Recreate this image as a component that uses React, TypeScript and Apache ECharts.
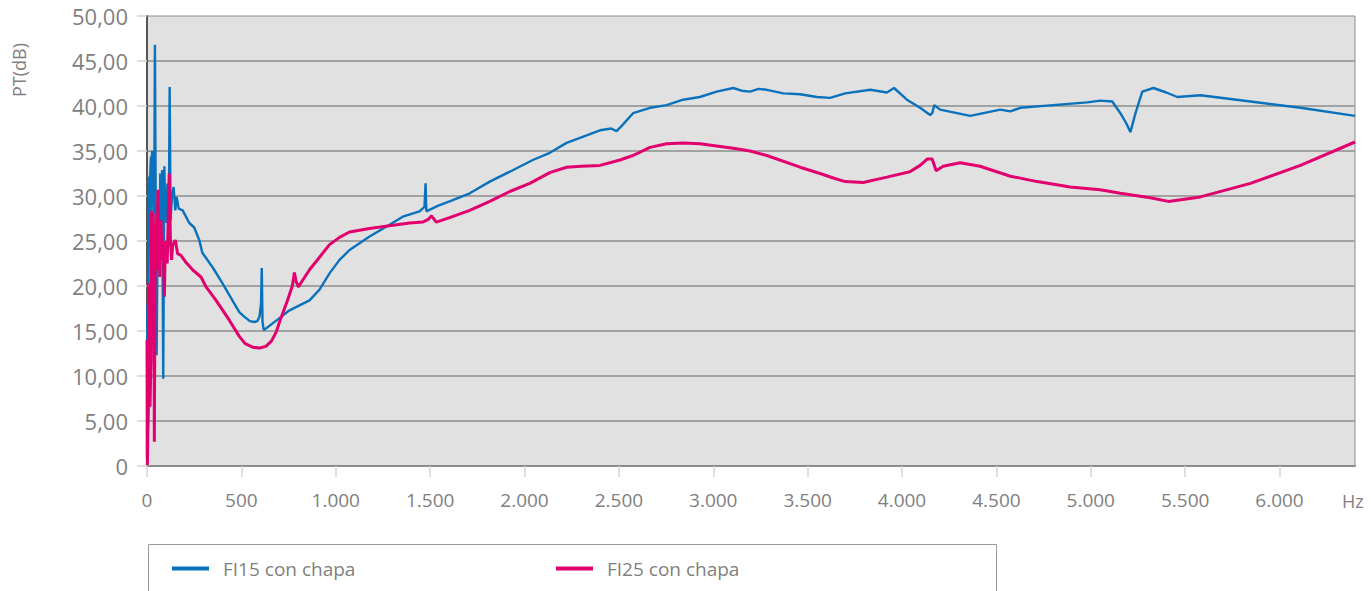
import React, { useEffect, useRef } from "react";
import * as echarts from "echarts";

// FI15 con chapa
const fi15Hz = [0, 2, 4, 8, 12, 17, 21, 24, 27, 30, 34, 38, 42, 46, 51, 56, 62, 66, 70, 76, 80, 86, 92, 97, 101, 104, 108, 113, 117, 120, 125, 132, 141, 150, 157, 168, 189, 224, 250, 277, 293, 350, 400, 489, 515, 545, 569, 585, 596, 604, 608, 612, 619, 700, 755, 861, 914, 967, 1020, 1073, 1179, 1285, 1355, 1444, 1470, 1476, 1480, 1540, 1603, 1710, 1816, 1922, 2044, 2134, 2223, 2400, 2460, 2488, 2520, 2575, 2665, 2753, 2840, 2929, 3018, 3106, 3150, 3195, 3240, 3284, 3372, 3460, 3549, 3619, 3699, 3832, 3920, 3958, 4026, 4096, 4149, 4160, 4171, 4202, 4361, 4521, 4574, 4627, 4801, 4981, 5050, 5114, 5157, 5190, 5210, 5237, 5273, 5332, 5400, 5459, 5581, 5846, 6111, 6400];
const fi15Db = [0.8, 18, 3, 20, 32, 32.3, 34.4, 28, 35, 30, 34.4, 28, 46.8, 30, 12.3, 24.7, 30, 22, 32.5, 26.6, 32.9, 9.7, 33.3, 27.5, 30.5, 27, 31.4, 29.2, 32, 42.1, 27.3, 29.9, 31, 28.4, 29.9, 28.6, 28.4, 27, 26.5, 25.1, 23.7, 22, 20.3, 17.1, 16.6, 16.1, 16.0, 16.1, 16.6, 18, 22.0, 16, 15.1, 16.4, 17.3, 18.4, 19.6, 21.4, 22.9, 24, 25.5, 26.8, 27.7, 28.3, 28.8, 31.4, 28.3, 28.9, 29.4, 30.3, 31.6, 32.7, 34, 34.8, 35.9, 37.3, 37.5, 37.2, 37.9, 39.2, 39.8, 40.1, 40.7, 41, 41.6, 42, 41.7, 41.6, 41.9, 41.8, 41.4, 41.3, 41, 40.9, 41.4, 41.8, 41.5, 42, 40.7, 39.8, 39, 39.2, 40.1, 39.6, 38.9, 39.6, 39.4, 39.8, 40.1, 40.4, 40.6, 40.5, 39.2, 38, 37.1, 39.2, 41.6, 42, 41.5, 41, 41.2, 40.5, 39.8, 38.9];

// FI25 con chapa
const fi25Hz = [0, 2, 4, 8, 12, 16, 21, 24, 28, 33, 36, 39, 43, 47, 52, 58, 63, 68, 74, 80, 86, 92, 97, 102, 107, 113, 118, 124, 130, 136, 150, 162, 180, 207, 242, 286, 313, 366, 436, 489, 520, 560, 596, 630, 660, 685, 702, 725, 744, 770, 781, 790, 802, 830, 861, 914, 967, 1020, 1073, 1179, 1285, 1391, 1461, 1490, 1507, 1533, 1603, 1710, 1816, 1922, 2028, 2134, 2223, 2300, 2400, 2506, 2575, 2665, 2753, 2840, 2929, 3106, 3195, 3284, 3460, 3566, 3636, 3699, 3795, 3920, 4042, 4096, 4133, 4160, 4181, 4218, 4308, 4414, 4574, 4716, 4891, 5050, 5157, 5315, 5411, 5581, 5846, 6111, 6400];
const fi25Db = [14, 0.1, 3.3, 7, 20.3, 6.6, 12, 28.3, 25.5, 28, 22, 2.7, 25, 27, 21.8, 30.7, 25, 21, 27.3, 23, 24.7, 18.8, 25, 24.5, 22.5, 28, 32.5, 25.1, 22.9, 24.5, 25.1, 23.6, 23.4, 22.6, 21.8, 21, 19.9, 18.4, 16.2, 14.4, 13.6, 13.2, 13.1, 13.3, 13.9, 14.9, 16.0, 17.3, 18.4, 20, 21.5, 20.5, 19.9, 20.8, 21.8, 23.2, 24.6, 25.4, 26, 26.4, 26.7, 27, 27.1, 27.4, 27.8, 27.1, 27.6, 28.4, 29.4, 30.5, 31.4, 32.6, 33.2, 33.3, 33.4, 34, 34.5, 35.4, 35.8, 35.9, 35.8, 35.3, 35, 34.5, 33.2, 32.5, 32, 31.6, 31.5, 32.1, 32.7, 33.4, 34.1, 34.1, 32.8, 33.3, 33.7, 33.3, 32.2, 31.6, 31, 30.7, 30.3, 29.8, 29.4, 29.9, 31.4, 33.4, 36];

const xTicks = [0, 500, 1000, 1500, 2000, 2500, 3000, 3500, 4000, 4500, 5000, 5500, 6000];
const seriesNames = ["FI15 con chapa", "FI25 con chapa"];
const colors = ["#0a72bd", "#e2006f"];

const FONT = "'Open Sans', 'DejaVu Sans', sans-serif";
const GRAY = "#808080";

function zip(xs: number[], ys: number[]) {
  return xs.map((x, i) => [x, ys[i]]);
}

function fmtThousands(v: number) {
  return String(v).replace(/\B(?=(\d{3})+(?!\d))/g, ".");
}

export default function App() {
  const ref = useRef<HTMLDivElement>(null);
  useEffect(() => {
    if (!ref.current) return;
    const chart = echarts.init(ref.current, null, { renderer: "svg" });
    chart.setOption({
      animation: false,
      backgroundColor: "#ffffff",
      grid: {
        left: 147,
        right: 16,
        top: 16,
        bottom: 125,
        show: true,
        backgroundColor: "#e1e1e1",
        borderColor: "#8c8c8c",
        borderWidth: 1,
      },
      xAxis: {
        type: "value",
        min: 0,
        max: 6400,
        interval: 500,
        axisLine: { show: true, lineStyle: { color: "#8c8c8c", width: 2 } },
        axisTick: {
          show: true,
          length: 11,
          customValues: xTicks,
          lineStyle: { color: "#d4d4d4", width: 1.5 },
        },
        axisLabel: {
          customValues: xTicks,
          margin: 24,
          color: GRAY,
          fontSize: 19,
          fontFamily: FONT,
          formatter: (v: number) => fmtThousands(v),
        },
        splitLine: { show: false },
      },
      yAxis: {
        type: "value",
        min: 0,
        max: 50,
        interval: 5,
        axisLine: { show: true, lineStyle: { color: "#555555", width: 2 } },
        axisTick: { show: true, length: 10, lineStyle: { color: "#d4d4d4", width: 1.5 } },
        axisLabel: {
          margin: 19,
          color: GRAY,
          fontSize: 22,
          fontFamily: FONT,
          formatter: (v: number) => (v === 0 ? "0" : v.toFixed(2).replace(".", ",")),
        },
        splitLine: {
          show: true,
          showMinLine: false,
          showMaxLine: false,
          lineStyle: { color: "#a2a2a2", width: 2 },
        },
      },
      legend: [0, 1].map((i) => ({
        data: [seriesNames[i]],
        left: i === 0 ? 172 : 556,
        top: 559,
        padding: 0,
        icon: "rect",
        itemWidth: 37,
        itemHeight: 4,
        textStyle: { color: GRAY, fontSize: 19, fontFamily: FONT, padding: [0, 0, 0, 9] },
      })),
      graphic: [
        {
          type: "rect",
          shape: { x: 148.5, y: 544.5, width: 848, height: 70 },
          style: { fill: "none", stroke: "#9a9a9a", lineWidth: 1 },
          silent: true,
        },
        {
          type: "text",
          x: 10,
          y: 97,
          rotation: Math.PI / 2,
          style: { text: "PT(dB)", fill: GRAY, fontSize: 18, fontFamily: FONT },
        },
        {
          type: "text",
          x: 1342,
          y: 492,
          style: { text: "Hz", fill: GRAY, fontSize: 18, fontFamily: FONT },
        },
      ],
      series: [
        {
          name: seriesNames[0],
          type: "line",
          data: zip(fi15Hz, fi15Db),
          showSymbol: false,
          symbol: "none",
          lineStyle: { color: colors[0], width: 2.4 },
          itemStyle: { color: colors[0] },
          z: 2,
        },
        {
          name: seriesNames[1],
          type: "line",
          data: zip(fi25Hz, fi25Db),
          showSymbol: false,
          symbol: "none",
          lineStyle: { color: colors[1], width: 3 },
          itemStyle: { color: colors[1] },
          z: 3,
        },
      ],
    });
    return () => chart.dispose();
  }, []);
  return (
    <div
      ref={ref}
      style={{ position: "fixed", left: 0, top: 0, width: 1371, height: 591 }}
    />
  );
}
